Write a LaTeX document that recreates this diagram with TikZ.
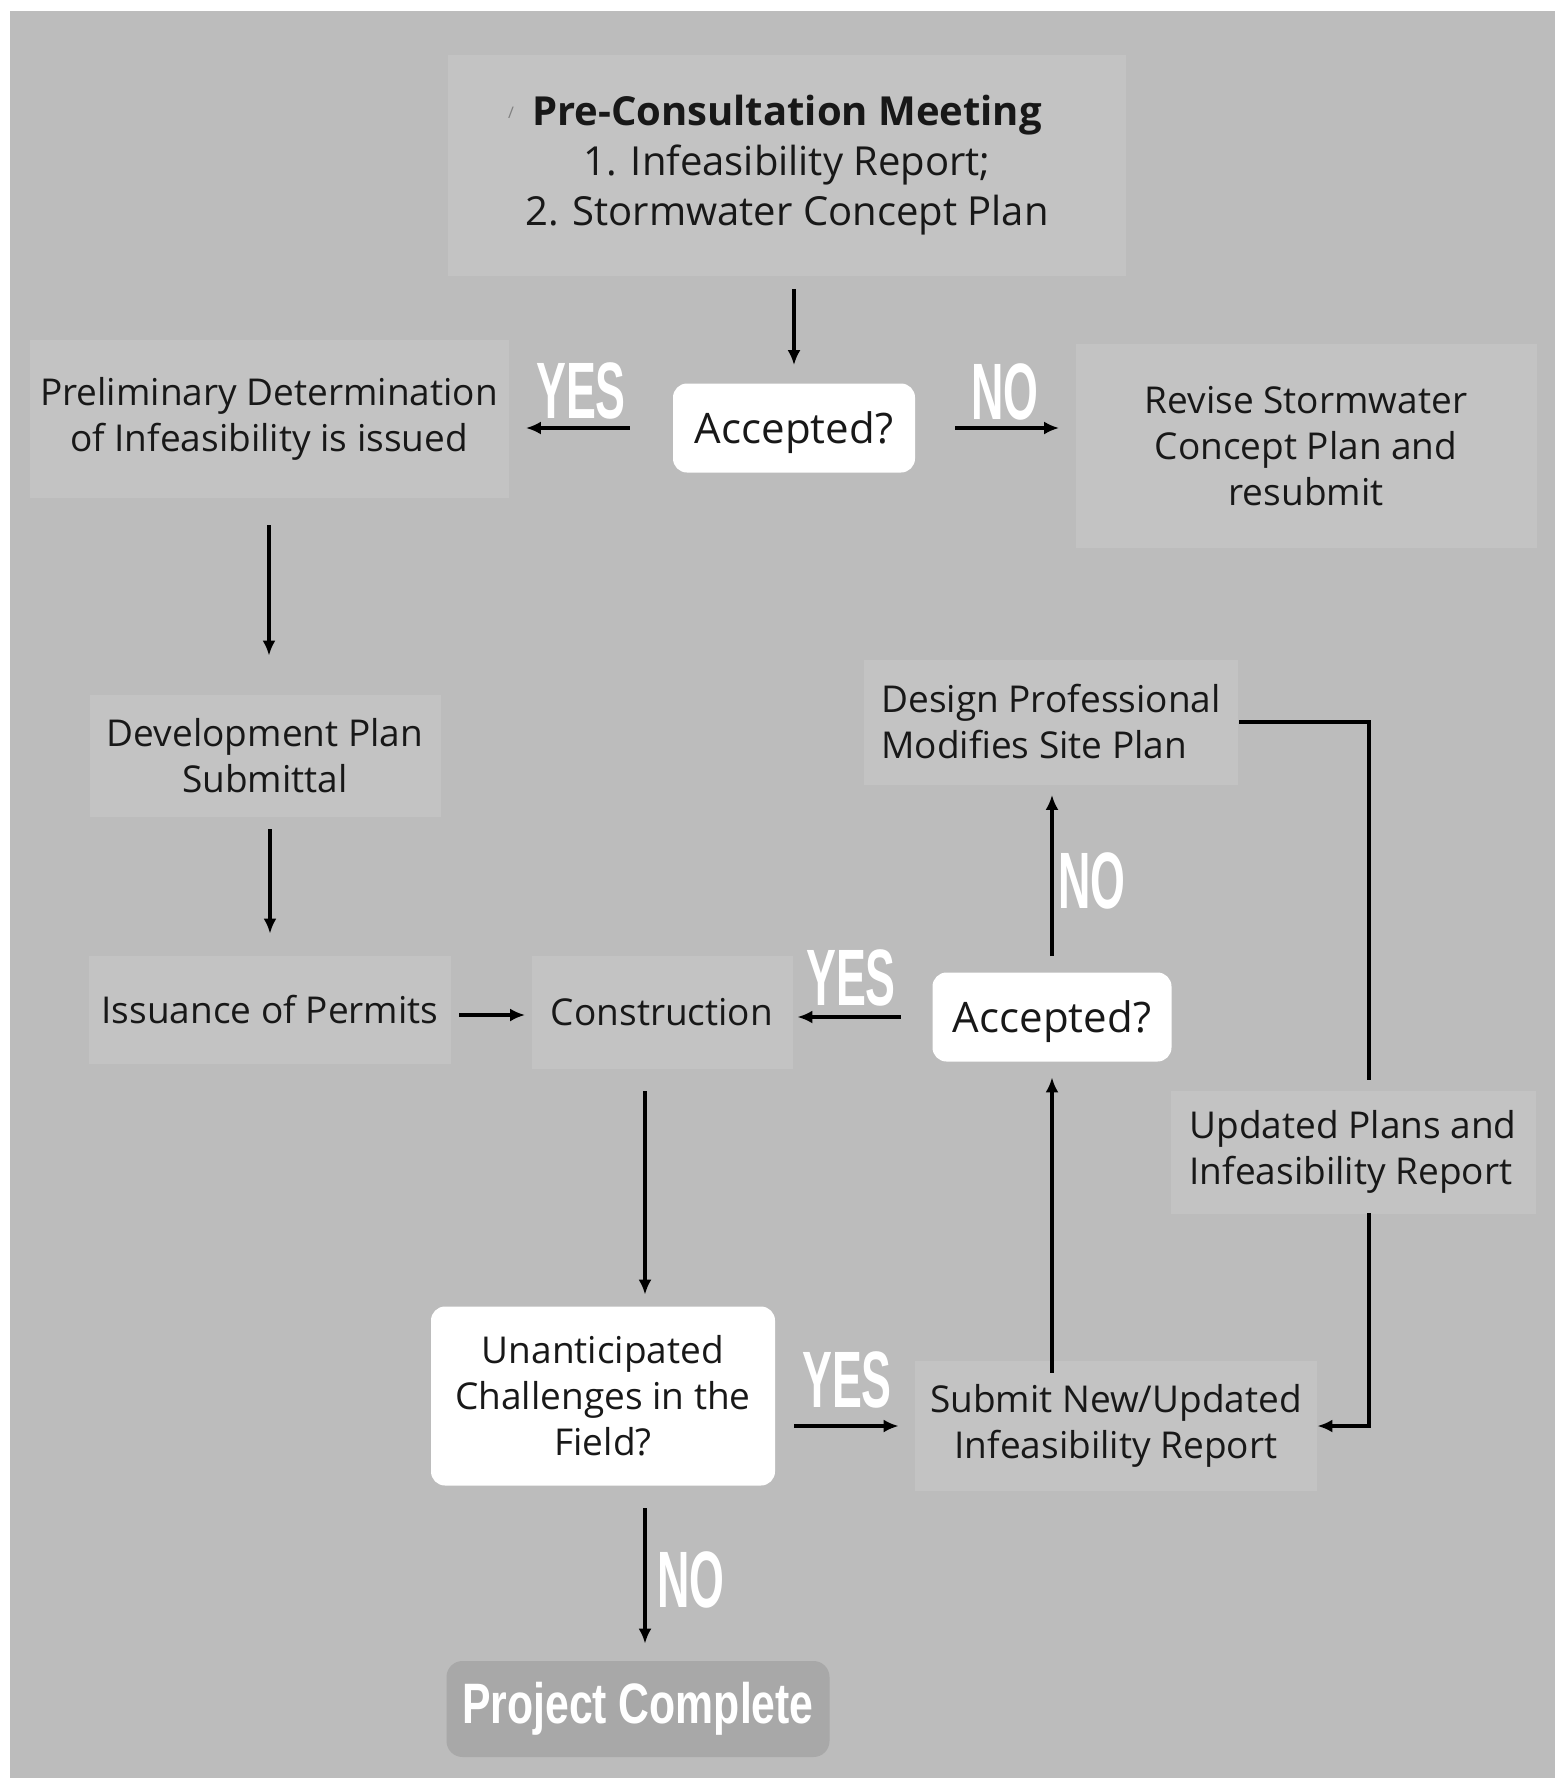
\documentclass[tikz,border=0pt]{standalone}
\usepackage{fontspec}
\setmainfont{Open Sans}
\newfontfamily\labfont{Liberation Sans}
\usepackage{graphicx}
\usetikzlibrary{arrows.meta}
\definecolor{bggray}{HTML}{BCBCBC}
\definecolor{boxgray}{HTML}{C3C3C3}
\definecolor{projgray}{HTML}{A8A8A8}
\definecolor{textc}{HTML}{181818}
\newcommand{\yeslab}[1]{\scalebox{0.56}[1]{\labfont\bfseries #1}}
\begin{document}
\begin{tikzpicture}[x=0.5pt,y=-0.5pt,
  body/.style={font=\fontsize{18.5}{23}\selectfont, text=textc, align=center, inner sep=0pt},
  lightbox/.style={body, fill=boxgray},
  whitebox/.style={body, fill=white, rounded corners=7pt},
  acc/.style={whitebox, font=\fontsize{21}{25}\selectfont, text height=20pt, text depth=5pt},
  lab/.style={text=white, inner sep=0pt, font=\fontsize{40}{40}\selectfont},
  arr/.style={draw=black, line width=1.6pt, -{Latex[length=7.5pt,width=6.5pt]}},
  plain/.style={draw=black, line width=1.6pt}]
\useasboundingbox (0,0) rectangle (1561,1778);
\fill[white] (0,0) rectangle (1561,1778);
\fill[bggray] (10,11) rectangle (1555,1778);

% nodes
\node[lightbox, minimum width=339pt, minimum height=110.5pt,
      font=\fontsize{20}{25}\selectfont] (pre) at (787,165)
  {{\bfseries Pre-Consultation Meeting}\\1. Infeasibility Report;\\2. Stormwater Concept Plan};
\node[text=gray, inner sep=0pt, font=\fontsize{8}{8}\selectfont] (slash) at (511,113) {/};
\node[acc, minimum width=121pt, minimum height=44.5pt] (acc1) at (794,428) {Accepted?};
\node[lightbox, minimum width=239.5pt, minimum height=79pt] (prelim) at (269,419)
  {Preliminary Determination\\of Infeasibility is issued};
\node[lightbox, minimum width=230.5pt, minimum height=102pt] (revise) at (1306,446)
  {Revise Stormwater\\Concept Plan and\\resubmit};
\node[lightbox, minimum width=175.5pt, minimum height=61pt] (dev) at (265,756)
  {Development Plan\\Submittal};
\node[lightbox, minimum width=181pt, minimum height=54pt] (issu) at (270,1010)
  {Issuance of Permits};
\node[lightbox, minimum width=130.5pt, minimum height=56.5pt] (cons) at (662,1012)
  {Construction};
\node[acc, minimum width=119.5pt, minimum height=44.5pt] (acc2) at (1052,1017) {Accepted?};
\node[lightbox, align=left, minimum width=187pt, minimum height=62.5pt] (design) at (1051,722)
  {Design Professional\\Modifies Site Plan};
\node[lightbox, align=left, minimum width=182.5pt, minimum height=61.5pt] (updated) at (1353,1152)
  {Updated Plans and\\Infeasibility Report};
\node[lightbox, minimum width=201pt, minimum height=65pt] (submit) at (1116,1426)
  {Submit New/Updated\\Infeasibility Report};
\node[whitebox, minimum width=172pt, minimum height=89.5pt] (unant) at (603,1396)
  {Unanticipated\\Challenges in the\\Field?};
\node[fill=projgray, rounded corners=8pt, minimum width=191.5pt, minimum height=48pt,
      inner sep=0pt, text=white] (proj) at (638,1709)
  {\scalebox{0.75}[1]{\labfont\bfseries\fontsize{28.5}{28.5}\selectfont Project Complete}};

% labels
\node[lab] (yes1) at (581,391) {\yeslab{YES}};
\node[lab] (no1) at (1005,392) {\yeslab{NO}};
\node[lab] (yes2) at (851,978) {\yeslab{YES}};
\node[lab] (no2) at (1092,881) {\yeslab{NO}};
\node[lab] (yes3) at (847,1380) {\yeslab{YES}};
\node[lab] (no3) at (691,1580) {\yeslab{NO}};

% helper coordinates
\coordinate (ux) at ([xshift=21pt]unant.north);
\coordinate (r1) at (1369,1080);
\coordinate (r2) at (1369,1213);

% connectors
\draw[arr, shorten <=6.5pt, shorten >=9pt] (pre.south -| acc1.north) -- (acc1.north);
\draw[arr, shorten <=21.5pt, shorten >=8.5pt] (acc1.west) -- (acc1.west -| prelim.east);
\draw[arr, shorten <=20pt, shorten >=8pt] (acc1.east) -- (acc1.east -| revise.west);
\draw[arr, shorten <=13.5pt, shorten >=19.5pt] (prelim.south) -- (prelim.south |- dev.north);
\draw[arr, shorten <=6pt, shorten >=11pt] (dev.south -| issu.north) -- (issu.north);
\draw[arr, shorten <=4pt, shorten >=3pt] ([yshift=-2.5pt]issu.east) -- ([yshift=-2.5pt]issu.east -| cons.west);
\draw[arr, shorten <=15.75pt, shorten >=2.25pt] (acc2.west) -- (acc2.west -| cons.east);
\draw[arr, shorten <=8pt, shorten >=5pt] (acc2.north) -- (acc2.north |- design.south);
\draw[plain, shorten <=0.5pt] (design.east) -| (r1);
\draw[arr] (r2) |- (submit.east);
\draw[arr, shorten <=-6pt, shorten >=7.75pt] (submit.north -| acc2.south) -- (acc2.south);
\draw[arr, shorten <=11.25pt, shorten >=5.75pt] (ux |- cons.south) -- (ux);
\draw[arr, shorten <=9.5pt, shorten >=8pt] (unant.east |- submit.west) -- (submit.west);
\draw[arr, shorten <=11.25pt, shorten >=8.5pt] (ux |- unant.south) -- (ux |- proj.north);
\end{tikzpicture}
\end{document}
